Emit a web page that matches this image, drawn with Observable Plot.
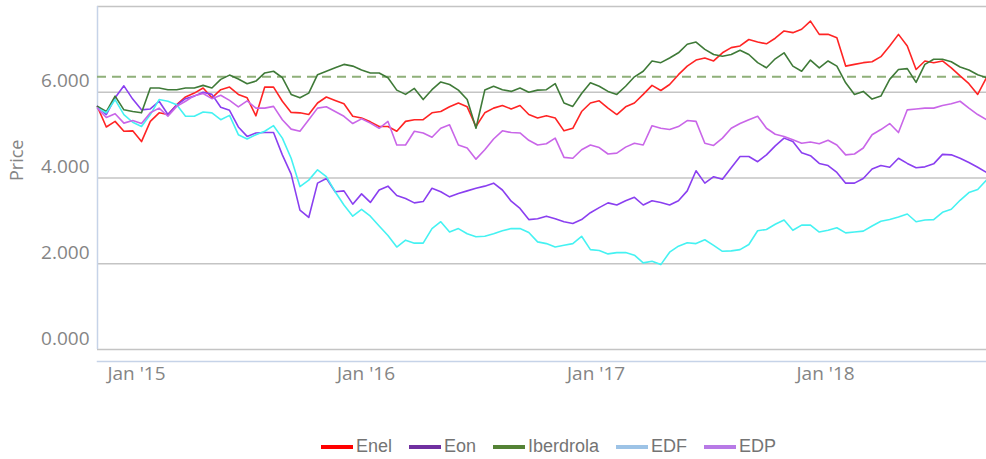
<!DOCTYPE html>
<html><head><meta charset="utf-8">
<script src="https://cdn.jsdelivr.net/npm/d3@7"></script>
<script src="https://cdn.jsdelivr.net/npm/@observablehq/plot@0.6"></script>
<style>
body{margin:0;background:#fff;width:986px;height:459px;overflow:hidden;position:relative;font-family:"Open Sans",sans-serif}
#chart{position:absolute;top:0;left:0}
#legend{position:absolute;top:436px;left:321px;display:flex;align-items:center;font-family:"Liberation Sans",Arial,sans-serif;font-size:18px;color:#747474;white-space:nowrap}
.item{display:flex;align-items:center;margin-right:17px}
.sw{width:32px;height:4px;margin-right:3px}
</style></head><body>
<div id="chart"></div><div id="legend"></div>
<script>
const seriesNames = ["Enel", "Eon", "Iberdrola", "EDF", "EDP"];
const lineColors = ["#ff2424", "#8a3ff0", "#3f7a38", "#45f2f2", "#c966e8"];
const legendColors = ["#ff0000", "#7030a0", "#548235", "#9dc3e6", "#b87ae6"];
const startDate = "2014-10-31";
const stepDays = 14;
const endDate = "2018-09-14";

const enel = [5.66,5.19,5.32,5.09,5.10,4.85,5.32,5.52,5.48,5.71,
5.89,5.98,6.10,5.87,6.06,6.12,5.95,5.87,5.45,6.12,
6.12,5.79,5.53,5.52,5.48,5.75,5.89,5.81,5.73,5.44,
5.40,5.31,5.20,5.20,5.09,5.32,5.36,5.36,5.52,5.55,
5.66,5.75,5.66,5.20,5.52,5.63,5.69,5.61,5.69,5.48,
5.40,5.45,5.40,5.10,5.16,5.55,5.75,5.80,5.63,5.48,
5.66,5.75,5.95,6.16,6.04,6.18,6.41,6.61,6.75,6.80,
6.73,6.92,7.04,7.08,7.23,7.17,7.13,7.26,7.43,7.39,
7.47,7.66,7.35,7.35,7.27,6.61,6.65,6.69,6.71,6.83,
7.08,7.35,7.08,6.53,6.73,6.69,6.73,6.57,6.38,6.20,
5.95,6.34];
const eon = [5.67,5.48,5.87,6.15,5.84,5.59,5.61,5.79,5.48,5.70,
5.85,5.91,6.00,5.95,5.65,5.58,5.19,4.97,5.05,5.06,
5.06,4.54,4.09,3.25,3.08,3.88,3.99,3.68,3.70,3.39,
3.63,3.43,3.72,3.81,3.59,3.52,3.42,3.45,3.76,3.68,
3.56,3.64,3.70,3.76,3.81,3.88,3.72,3.46,3.29,3.03,
3.05,3.11,3.05,2.98,2.94,3.03,3.19,3.31,3.42,3.37,
3.47,3.55,3.37,3.47,3.43,3.37,3.47,3.70,4.17,3.88,
4.03,3.97,4.24,4.50,4.50,4.38,4.54,4.75,4.93,4.85,
4.59,4.52,4.34,4.29,4.13,3.88,3.88,3.99,4.21,4.29,
4.25,4.46,4.34,4.24,4.26,4.33,4.55,4.54,4.46,4.36,
4.25,4.13];
const iberdrola = [5.67,5.55,5.91,5.59,5.55,5.52,6.10,6.10,6.06,6.06,
6.10,6.10,6.16,6.10,6.30,6.40,6.31,6.20,6.26,6.45,
6.49,6.34,5.95,5.87,5.98,6.41,6.49,6.57,6.65,6.61,
6.52,6.45,6.45,6.34,6.05,5.95,6.09,5.83,6.06,6.24,
6.18,6.05,5.83,5.16,6.05,6.14,6.06,6.02,6.10,6.00,
6.05,6.06,6.20,5.75,5.67,5.97,6.22,6.14,6.02,5.95,
6.14,6.36,6.49,6.73,6.69,6.80,6.92,7.12,7.17,7.00,
6.88,6.84,6.88,6.98,6.88,6.69,6.57,6.78,6.92,6.61,
6.49,6.75,6.57,6.73,6.61,6.22,5.95,6.02,5.84,5.91,
6.30,6.53,6.55,6.23,6.65,6.77,6.77,6.71,6.59,6.52,
6.41,6.34];
const edf = [5.63,5.52,5.83,5.48,5.30,5.20,5.48,5.83,5.79,5.71,
5.44,5.44,5.54,5.52,5.36,5.46,5.01,4.91,5.01,5.09,
5.22,4.93,4.46,3.80,3.95,4.19,4.03,3.68,3.37,3.11,
3.27,3.11,2.88,2.66,2.39,2.55,2.48,2.48,2.82,2.98,
2.74,2.82,2.70,2.63,2.64,2.70,2.77,2.82,2.82,2.73,
2.51,2.47,2.39,2.43,2.47,2.64,2.33,2.31,2.23,2.26,
2.26,2.20,2.02,2.06,1.98,2.27,2.41,2.49,2.47,2.56,
2.43,2.29,2.30,2.33,2.45,2.77,2.80,2.92,3.02,2.78,
2.90,2.90,2.74,2.78,2.84,2.72,2.74,2.76,2.88,2.99,
3.03,3.09,3.16,2.98,3.02,3.03,3.20,3.27,3.48,3.66,
3.73,3.95];
const edp = [5.63,5.41,5.50,5.28,5.34,5.27,5.52,5.63,5.44,5.67,
5.79,5.92,5.97,5.85,5.93,5.81,5.66,5.80,5.63,5.63,
5.67,5.36,5.14,5.09,5.36,5.63,5.66,5.55,5.44,5.27,
5.38,5.28,5.16,5.32,4.77,4.77,5.09,5.05,4.95,5.16,
5.24,4.77,4.70,4.44,4.66,4.91,5.10,5.06,5.05,4.88,
4.77,4.80,4.93,4.48,4.46,4.66,4.77,4.71,4.56,4.58,
4.72,4.81,4.77,5.22,5.16,5.13,5.20,5.34,5.32,4.81,
4.76,4.93,5.16,5.27,5.36,5.44,5.16,5.02,4.97,4.89,
4.81,4.84,4.80,4.88,4.77,4.54,4.56,4.70,5.01,5.13,
5.27,5.06,5.59,5.61,5.63,5.63,5.69,5.73,5.79,5.63,
5.48,5.36];
const refLevel = 6.36;
const yTicks = [0, 2, 4, 6];
const gridTicks = [0, 2, 4, 6, 8];
const xTicks = ["2015-01-01", "2016-01-01", "2017-01-01", "2018-01-01"];

const seriesValues = [enel, eon, iberdrola, edf, edp];
const start = new Date(startDate);
const rows = [];
seriesNames.forEach((name, k) => {
  seriesValues[k].forEach((v, i) => {
    rows.push({name, date: d3.utcDay.offset(start, i * stepDays), value: v});
  });
});

const chart = Plot.plot({
  width: 986,
  height: 400,
  marginLeft: 97,
  marginRight: 0,
  marginTop: 0,
  marginBottom: 39,
  style: {fontFamily: "'Open Sans', sans-serif", fontSize: "19px", color: "#858585", background: "#fff"},
  x: {type: "utc", domain: [new Date(startDate), new Date(endDate)]},
  y: {domain: [0, 8], range: [349, 6]},
  color: {domain: seriesNames, range: lineColors},
  marks: [
    Plot.gridY(gridTicks, {stroke: "#c4c4c4", strokeOpacity: 1, strokeWidth: 1.5}),
    Plot.ruleX([new Date(startDate)], {y1: 0, y2: 8, stroke: "#c6d3e8", strokeWidth: 1.5}),
    Plot.frame({anchor: "bottom", stroke: "#c6d3e8", strokeWidth: 1.5}),
    Plot.axisY(yTicks, {tickSize: 0, tickPadding: 8, dy: -11, tickFormat: d3.format(".3f"), label: null}),
    Plot.axisX(xTicks.map(d => new Date(d)), {tickSize: 0, tickPadding: 5, label: null,
      tickFormat: d => "Jan '" + d3.utcFormat("%y")(d)}),
    Plot.text(["Price"], {frameAnchor: "left", rotate: -90, dx: -80, fontSize: 18, fill: "#858585"}),
    Plot.ruleY([refLevel], {stroke: "#8fb07a", strokeWidth: 2, strokeDasharray: "9,6"}),
    Plot.line(rows, {x: "date", y: "value", z: "name", stroke: "name", strokeWidth: 1.6, curve: "linear"})
  ]
});
document.getElementById("chart").appendChild(chart);

const legend = d3.select("#legend");
seriesNames.forEach((name, k) => {
  const it = legend.append("div").attr("class", "item");
  it.append("div").attr("class", "sw").style("background", legendColors[k]);
  it.append("span").text(name);
});
</script>
</body></html>
